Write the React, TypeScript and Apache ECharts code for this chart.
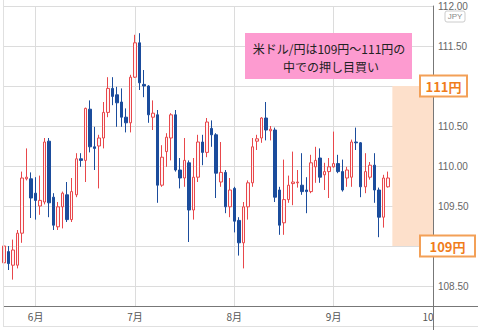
import React, { useEffect, useRef } from 'react';
import * as echarts from 'echarts';

// trading days (categories)
const dates = [
  '5/20','5/21','5/24','5/25','5/26','5/27','5/28',
  '6/1','6/2','6/3','6/4','6/7','6/8','6/9','6/10','6/11','6/14','6/15','6/16','6/17','6/18','6/21','6/22','6/23','6/24','6/25','6/28','6/29','6/30',
  '7/1','7/2','7/5','7/6','7/7','7/8','7/9','7/12','7/13','7/14','7/15','7/16','7/19','7/20','7/21','7/22','7/23','7/26','7/27','7/28','7/29','7/30',
  '8/2','8/3','8/4','8/5','8/6','8/9','8/10','8/11','8/12','8/13','8/16','8/17','8/18','8/19','8/20','8/23','8/24','8/25','8/26','8/27','8/30','8/31',
  '9/1','9/2','9/3','9/6','9/7','9/8','9/9','9/10','9/13','9/14','9/15','9/16','9/17','9/20','9/21','9/22','9/23','9/24','9/27','9/28','9/29','9/30',
  '10/1',
];
const monthLabels: Record<string, string> = { '6/1': '6月', '7/1': '7月', '8/2': '8月', '9/1': '9月', '10/1': '10月' };

const opens = [
  108.79,108.93,108.76,108.76,109.16,109.84,109.84,109.66,109.50,109.55,
  110.31,109.61,109.24,109.49,109.64,109.33,109.64,110.09,110.07,110.71,
  110.24,110.25,110.35,110.67,110.97,110.89,110.80,110.61,110.54,111.11,
  111.54,111.02,111.00,110.61,110.64,109.76,110.18,110.35,110.64,109.95,
  109.85,110.04,109.45,109.86,110.30,110.17,110.47,110.39,109.80,109.92,
  109.49,109.72,109.32,109.04,109.49,109.79,110.31,110.35,110.60,110.44,
  110.45,109.70,109.29,109.58,109.78,109.79,109.76,109.70,109.68,109.99,
  110.10,109.89,109.93,109.99,110.03,109.93,109.85,109.86,110.30,110.29,
  109.74,109.86,110.01,109.70,109.36,109.74,
];
const closes = [
  109.00,108.78,108.95,109.16,109.85,109.86,109.60,109.57,109.57,110.30,
  109.54,109.26,109.49,109.66,109.33,109.68,110.09,110.07,110.72,110.24,
  110.22,110.35,110.67,110.97,110.87,110.79,110.61,110.54,111.11,111.54,
  111.04,111.00,110.64,110.66,109.76,110.11,110.36,110.64,109.95,109.85,
  110.07,109.45,109.86,110.30,110.17,110.55,110.39,109.91,109.92,109.49,
  109.70,109.31,109.04,109.49,109.79,110.24,110.34,110.60,110.45,110.46,
  109.61,109.26,109.58,109.76,109.80,109.80,109.68,109.68,110.04,110.07,
  109.86,109.93,109.99,110.03,109.93,109.70,109.95,110.30,110.29,109.74,
  109.93,110.01,109.70,109.36,109.85,109.85,
];
const lows = [
  108.61,108.70,108.58,108.72,109.04,109.82,109.35,109.33,109.39,109.52,
  109.36,109.20,109.20,109.22,109.30,109.30,109.61,109.99,109.80,110.17,
  109.95,109.72,110.22,110.61,110.76,110.49,110.49,110.42,110.42,111.10,
  110.95,110.86,110.54,110.45,109.54,109.74,109.99,110.07,109.93,109.72,
  109.74,109.05,109.33,109.80,110.01,110.11,110.24,109.60,109.74,109.41,
  109.36,109.17,108.88,108.72,109.33,109.74,110.20,110.29,110.32,110.32,
  109.55,109.14,109.14,109.54,109.51,109.73,109.64,109.41,109.66,109.79,
  109.79,109.70,109.60,109.98,109.91,109.68,109.74,109.74,110.20,109.61,
  109.66,109.83,109.54,109.11,109.23,109.73,
];
const highs = [
  109.02,109.00,109.08,109.20,109.93,110.22,109.92,109.86,109.88,110.35,
  110.35,109.66,109.55,109.68,109.80,109.85,110.16,110.16,110.73,110.82,
  110.49,110.39,110.80,111.11,111.11,110.99,110.97,110.72,111.14,111.64,
  111.66,111.20,111.01,110.82,110.70,110.26,110.41,110.66,110.70,110.10,
  110.35,110.07,110.10,110.39,110.39,110.60,110.57,110.41,110.30,109.95,
  109.85,109.74,109.36,109.55,109.82,110.35,110.39,110.61,110.80,110.50,
  110.48,109.74,110.08,109.88,110.18,109.95,110.16,109.86,110.14,110.24,
  110.22,110.04,110.10,110.43,110.14,110.08,109.99,110.33,110.48,110.30,
  110.16,110.05,110.16,109.73,109.89,109.93,
];

const yMin = 108.25;
const yMax = 112;
const yStep = 0.25;
const rangeHigh = 111;
const rangeLow = 109;
const rangeStart = '9/20';
const rangeEnd = '10/1';
const noteLines = ['米ドル/円は109円～111円の', '中での押し目買い'];
const highLabel = '111円';
const lowLabel = '109円';
const unitLabel = 'JPY';

const UP = '#e8474b';
const UP_FILL = '#fff4f4';
const DOWN = '#1b4c9c';
const ORANGE = '#f07d1c';
const ORANGE_BORDER = '#f3a057';
const GRID = '#dcdcdc';
const AXIS = '#777777';
const LATIN = '"Liberation Sans", Arial, sans-serif';
const CJK = '"Noto Sans CJK JP", "Noto Sans", sans-serif';

export default function App() {
  const ref = useRef<HTMLDivElement>(null);
  useEffect(() => {
    const el = ref.current;
    if (!el) return;
    const chart = echarts.init(el, undefined, { renderer: 'svg' });
    const candles = opens.map((o, i) => [o, closes[i], lows[i], highs[i]]);
    const showMonth = (_i: number, v: string) => !!monthLabels[v];
    chart.setOption({
      animation: false,
      backgroundColor: '#ffffff',
      grid: { left: 4, right: 45, top: 6, bottom: 24 },
      xAxis: {
        type: 'category',
        data: dates,
        boundaryGap: false,
        axisLine: { show: true, lineStyle: { color: AXIS } },
        axisTick: { show: false },
        axisLabel: {
          interval: showMonth,
          formatter: (v: string) => monthLabels[v] || '',
          color: '#555',
          fontSize: 10,
          fontFamily: CJK,
          margin: 5,
        },
        splitLine: { show: true, interval: showMonth, lineStyle: { color: GRID, width: 1 } },
      },
      yAxis: {
        type: 'value',
        position: 'right',
        min: yMin,
        max: yMax,
        interval: yStep,
        scale: true,
        axisLine: { show: true, lineStyle: { color: AXIS } },
        axisTick: { show: false },
        axisLabel: {
          color: '#666',
          fontSize: 10,
          fontFamily: LATIN,
          margin: 5,
          // labels at 111 / 109 are hidden behind the orange range tags
          formatter: (v: number) => {
            if (Math.round(v * 4) % 2 !== 0) return '';
            if (Math.abs(v - rangeHigh) < 1e-6 || Math.abs(v - rangeLow) < 1e-6) return '';
            return v.toFixed(2);
          },
        },
        splitLine: { show: true, lineStyle: { color: ['rgba(0,0,0,0)', GRID], width: 1 } },
      },
      series: [
        {
          type: 'candlestick',
          data: candles,
          barWidth: 3,
          itemStyle: {
            color: UP_FILL,
            borderColor: UP,
            color0: DOWN,
            borderColor0: DOWN,
            borderWidth: 1,
          },
          markArea: {
            silent: true,
            itemStyle: { color: '#fde0cb' },
            data: [[{ xAxis: rangeStart, yAxis: rangeHigh }, { xAxis: rangeEnd, yAxis: rangeLow }]],
          },
        },
      ],
    });

    const yHi = chart.convertToPixel({ yAxisIndex: 0 }, rangeHigh) as number;
    const yLo = chart.convertToPixel({ yAxisIndex: 0 }, rangeLow) as number;
    const yBottom = chart.convertToPixel({ yAxisIndex: 0 }, yMin) as number;
    const xRight = chart.convertToPixel({ xAxisIndex: 0 }, rangeEnd) as number;

    const orangeBox = (label: string, cy: number, w: number) => ({
      type: 'group',
      z: 100,
      children: [
        { type: 'rect', shape: { x: 420, y: cy - 10.5, width: w, height: 21 }, style: { fill: '#fff', stroke: ORANGE_BORDER, lineWidth: 2 }, z: 100 },
        { type: 'text', x: 420 + w / 2, y: cy + 0.5, style: { text: label, fill: ORANGE, fontSize: 13, fontWeight: 'bold', fontFamily: CJK, align: 'center', verticalAlign: 'middle' }, z: 101 },
      ],
    });

    chart.setOption({
      graphic: [
        // panel border
        { type: 'line', z: 90, shape: { x1: 3.5, y1: 0, x2: 3.5, y2: 326 }, style: { stroke: '#e0e0e0', lineWidth: 1 } },
        { type: 'line', z: 90, shape: { x1: 3, y1: 326.5, x2: 478, y2: 326.5 }, style: { stroke: '#e0e0e0', lineWidth: 1 } },
        // cover right part of last month label, extend axis lines
        { type: 'rect', z: 95, shape: { x: Math.round(xRight) + 1, y: yBottom + 1, width: 60, height: 18 }, style: { fill: '#fff' } },
        { type: 'line', z: 96, shape: { x1: xRight, y1: yBottom + 0.5, x2: 478, y2: yBottom + 0.5 }, style: { stroke: AXIS, lineWidth: 1 } },
        { type: 'line', z: 96, shape: { x1: Math.round(xRight) + 0.5, y1: yBottom, x2: Math.round(xRight) + 0.5, y2: 330 }, style: { stroke: AXIS, lineWidth: 1 } },
        // unit box
        { type: 'rect', z: 100, shape: { x: 445, y: 11, width: 20, height: 11, r: 2 }, style: { fill: '#fff', stroke: '#cccccc', lineWidth: 1 } },
        { type: 'text', z: 101, x: 455, y: 16.5, style: { text: unitLabel, fill: '#888', fontSize: 8, fontFamily: LATIN, align: 'center', verticalAlign: 'middle' } },
        // note box
        { type: 'rect', z: 100, shape: { x: 245, y: 33, width: 167, height: 46 }, style: { fill: '#fd9bd0' } },
        { type: 'text', z: 101, x: 329, y: 48, style: { text: noteLines[0], fill: '#222', fontSize: 12, fontFamily: CJK, align: 'center', verticalAlign: 'middle' } },
        { type: 'text', z: 101, x: 331, y: 66, style: { text: noteLines[1], fill: '#222', fontSize: 12, fontFamily: CJK, align: 'center', verticalAlign: 'middle' } },
        orangeBox(highLabel, yHi, 47),
        orangeBox(lowLabel, yLo, 55),
      ],
    });

    return () => chart.dispose();
  }, []);
  return (
    <div
      ref={ref}
      style={{ position: 'absolute', left: 0, top: 0, width: 478, height: 330, background: '#fff' }}
    />
  );
}
